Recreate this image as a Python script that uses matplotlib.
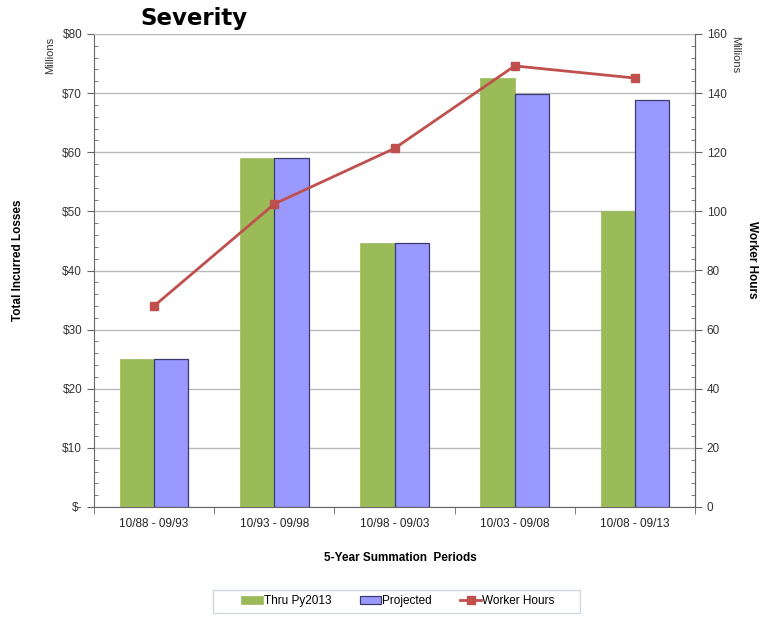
import matplotlib
matplotlib.use("Agg")
import matplotlib.pyplot as plt
import numpy as np
from matplotlib.ticker import MultipleLocator, FixedLocator
from matplotlib.patches import Rectangle

categories = ["10/88 - 09/93", "10/93 - 09/98", "10/98 - 09/03", "10/03 - 09/08", "10/08 - 09/13"]
thru_py2013 = [25.0, 59.0, 44.6, 72.5, 50.1]
projected = [25.1, 59.0, 44.6, 69.8, 68.8]
worker_hours = [68.0, 102.5, 121.3, 149.2, 145.1]
left_ticks = [0, 10, 20, 30, 40, 50, 60, 70, 80]
left_labels = ["$-", "$10", "$20", "$30", "$40", "$50", "$60", "$70", "$80"]
right_ticks = [0, 20, 40, 60, 80, 100, 120, 140, 160]

plt.rcParams['font.family'] = ['Liberation Sans', 'DejaVu Sans']

fig = plt.figure(figsize=(7.69, 6.28), dpi=100)
ax = fig.add_axes([94/769, 1-507/628, 601/769, 473/628])
ax2 = ax.twinx()

x = np.arange(len(categories))
w = 0.285
ax.bar(x - w/2, thru_py2013, width=w, color="#9BBB59", edgecolor="#9BBB59", linewidth=0.5, zorder=3, label="Thru Py2013")
ax.bar(x + w/2, projected, width=w, color="#9999FF", edgecolor="#3A3A6E", linewidth=0.9, zorder=3, label="Projected")
ax2.plot(x, worker_hours, color="#C0504D", linewidth=2, marker="s", markersize=5.5, label="Worker Hours", zorder=4)

ax.set_xlim(-0.5, len(categories) - 0.5)
ax.set_ylim(0, 80)
ax2.set_ylim(0, 160)

ax.set_yticks(left_ticks)
ax.set_yticklabels(left_labels)
ax.yaxis.set_minor_locator(MultipleLocator(2))
ax2.set_yticks(right_ticks)
ax2.yaxis.set_minor_locator(MultipleLocator(4))

ax.set_xticks(x)
ax.set_xticklabels(categories)
ax.xaxis.set_minor_locator(FixedLocator(np.arange(-0.5, len(categories), 1.0)))
ax.tick_params(axis='x', which='major', length=0, labelsize=8.5, pad=8, labelcolor="#222222")
ax.tick_params(axis='x', which='minor', length=5, direction='out', color="#666666")
ax.tick_params(axis='y', which='major', length=5, direction='out', labelsize=8.5, color="#666666", labelcolor="#333333")
ax.tick_params(axis='y', which='minor', length=3, direction='in', color="#666666")
ax2.tick_params(axis='y', which='major', length=5, direction='out', labelsize=8.5, color="#666666", labelcolor="#333333")
ax2.tick_params(axis='y', which='minor', length=3, direction='in', color="#666666")

ax.grid(axis='y', which='major', color="#BBBBBB", linewidth=1, zorder=0)
ax.set_axisbelow(True)
for sp in ["left", "bottom", "right"]:
    ax.spines[sp].set_color("#666666")
ax.spines["top"].set_color("#BBBBBB")
ax2.spines["right"].set_color("#666666")
ax2.spines["left"].set_visible(False)
ax2.spines["top"].set_visible(False)
ax2.spines["bottom"].set_visible(False)

fig.text(140/769, 1-19/628, "Severity", fontsize=16.5, fontweight='bold', family='DejaVu Sans', ha='left', va='center')
fig.text(50/769, 1-55/628, "Millions", fontsize=8, rotation=90, ha='center', va='center', color="#333333")
fig.text(735/769, 1-55/628, "Millions", fontsize=8, rotation=270, ha='center', va='center', color="#333333")
fig.text(18/769, 1-260/628, "Total Incurred Losses", fontsize=8.5, fontweight='bold', rotation=90, ha='center', va='center')
fig.text(752/769, 1-260/628, "Worker Hours", fontsize=8.5, fontweight='bold', rotation=270, ha='center', va='center')
fig.text(400/769, 1-558/628, "5-Year Summation  Periods", fontsize=8.5, fontweight='bold', ha='center', va='center')

h1, l1 = ax.get_legend_handles_labels()
h2, l2 = ax2.get_legend_handles_labels()
leg = fig.legend(h1 + h2, l1 + l2, loc='center', bbox_to_anchor=(398/769, 1-601/628), ncol=3,
                 fontsize=8.5, frameon=False, handlelength=1.8, handleheight=0.6,
                 columnspacing=2.4, handletextpad=0.1, borderpad=0.5, borderaxespad=0)
fig.patches.append(Rectangle((213/769, 1-613/628), (580-213)/769, 23/628, transform=fig.transFigure,
                             fill=False, edgecolor="#D0D8E0", linewidth=1))

fig.savefig("out.png", dpi=100)
